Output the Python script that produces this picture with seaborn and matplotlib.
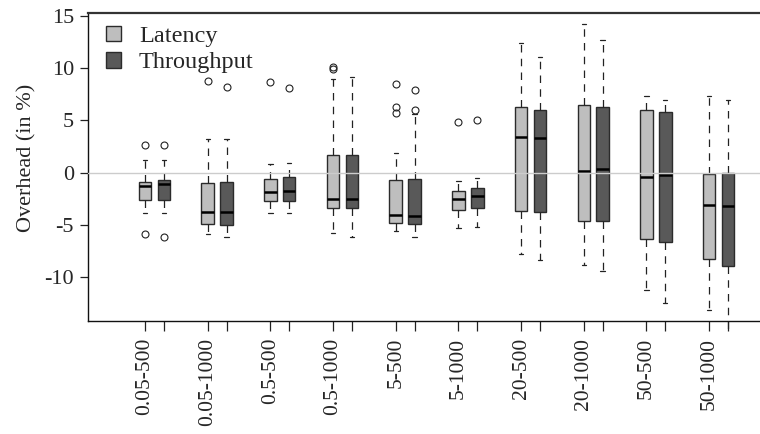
import matplotlib
matplotlib.use("Agg")
import matplotlib.pyplot as plt
from matplotlib.patches import Patch
import seaborn as sns

# configurations (rate-size)
configs = ["0.05-500", "0.05-1000", "0.5-500", "0.5-1000", "5-500",
           "5-1000", "20-500", "20-1000", "50-500", "50-1000"]

# Latency overhead box statistics (in %)
lat_whislo = [-3.87, -5.88, -3.87, -5.79, -5.57, -5.31, -7.79, -8.82, -11.17, -13.08]
lat_q1 = [-2.61, -4.91, -2.73, -3.33, -4.81, -3.59, -3.69, -4.58, -6.33, -8.24]
lat_med = [-1.28, -3.78, -1.85, -2.54, -4.04, -2.54, 3.41, 0.19, -0.41, -3.11]
lat_q3 = [-0.86, -0.99, -0.57, 1.66, -0.73, -1.75, 6.30, 6.47, 5.96, -0.12]
lat_whishi = [1.24, 3.25, 0.83, 8.95, 1.91, -0.79, 12.42, 14.17, 7.33, 7.35]
lat_fliers = [[2.61, -5.87], [8.79], [8.69], [10.12, 9.90], [8.47, 6.30, 5.67],
              [4.87], [], [], [], []]

# Throughput overhead box statistics (in %)
thr_whislo = [-3.87, -6.17, -3.87, -6.11, -6.11, -5.19, -8.37, -9.39, -12.42, -15.0]
thr_q1 = [-2.61, -5.00, -2.73, -3.37, -4.87, -3.37, -3.78, -4.58, -6.59, -8.94]
thr_med = [-1.08, -3.78, -1.75, -2.48, -4.11, -2.25, 3.34, 0.38, -0.25, -3.15]
thr_q3 = [-0.73, -0.89, -0.44, 1.66, -0.63, -1.49, 6.02, 6.27, 5.77, -0.06]
thr_whishi = [1.24, 3.25, 0.90, 9.11, 5.60, -0.48, 11.08, 12.65, 6.97, 6.94]
thr_fliers = [[2.64, -6.16], [8.21], [8.12], [], [7.90, 5.99],
              [5.00], [], [], [], []]

series = ["Latency", "Throughput"]
colors = sns.color_palette(["#bebebe", "#595959"])

sns.set_style("ticks")
plt.rcParams["font.family"] = ["Liberation Serif", "DejaVu Serif"]


def box_stats(lo, q1, med, q3, hi, fl):
    return [dict(whislo=a, q1=b, med=c, q3=d, whishi=e, fliers=f)
            for a, b, c, d, e, f in zip(lo, q1, med, q3, hi, fl)]


lat_stats = box_stats(lat_whislo, lat_q1, lat_med, lat_q3, lat_whishi, lat_fliers)
thr_stats = box_stats(thr_whislo, thr_q1, thr_med, thr_q3, thr_whishi, thr_fliers)

fig = plt.figure(figsize=(7.6, 4.34), dpi=100)
ax = fig.add_axes([88 / 760, 113 / 434, 697 / 760, 308 / 434])

ax.axhline(0, color="#cccccc", lw=1, zorder=5)

pos_lat = [i for i in range(len(configs))]
pos_thr = [i + 0.3 for i in range(len(configs))]

for stats, pos, col in [(lat_stats, pos_lat, colors[0]), (thr_stats, pos_thr, colors[1])]:
    bp = ax.bxp(stats, positions=pos, widths=0.2, capwidths=0.07, patch_artist=True,
                boxprops=dict(facecolor=col, edgecolor="#2b2b2b", lw=1.0),
                medianprops=dict(color="black", lw=1.8),
                whiskerprops=dict(color="#222222", lw=0.9, ls=(0, (6, 5))),
                capprops=dict(color="#222222", lw=0.9),
                flierprops=dict(marker="o", mfc="none", mec="#222222", ms=5, mew=0.8))
    for w in bp["whiskers"]:
        w.set_clip_on(False)

ax.set_xlim(-0.91, 10.21)
ax.set_ylim(-14.16, 15.25)
ax.set_yticks([-10, -5, 0, 5, 10, 15])
ax.set_yticklabels(["-10", "-5", "0", "5", "10", "15"])
ax.set_xticks(pos_lat + pos_thr)
ax.set_xticklabels(configs + [""] * len(configs), rotation=90)
ax.tick_params(axis="x", length=7, width=0.9, pad=5, labelsize=15.5, color="#222222")
ax.tick_params(axis="y", length=6, width=0.9, pad=4, labelsize=16, color="#222222")
ax.set_ylabel("Overhead (in %)", fontsize=16, labelpad=6)
ax.yaxis.label.set_y(0.531)
ax.set_xlabel("")

for side in ["left", "bottom"]:
    ax.spines[side].set_linewidth(1.0)
    ax.spines[side].set_color("#111111")
ax.spines["top"].set_linewidth(1.6)
ax.spines["top"].set_color("#333333")
ax.spines["right"].set_visible(False)

handles = [Patch(facecolor=c, edgecolor="#2b2b2b", lw=1.0) for c in colors]
ax.legend(handles, series, loc="upper left", bbox_to_anchor=(0.026, 0.958), frameon=False,
          fontsize=17.5, handlelength=0.6, handleheight=0.6, handletextpad=0.75,
          labelspacing=0.2, borderpad=0.0, borderaxespad=0.0)

fig.savefig("out.png", dpi=100)
